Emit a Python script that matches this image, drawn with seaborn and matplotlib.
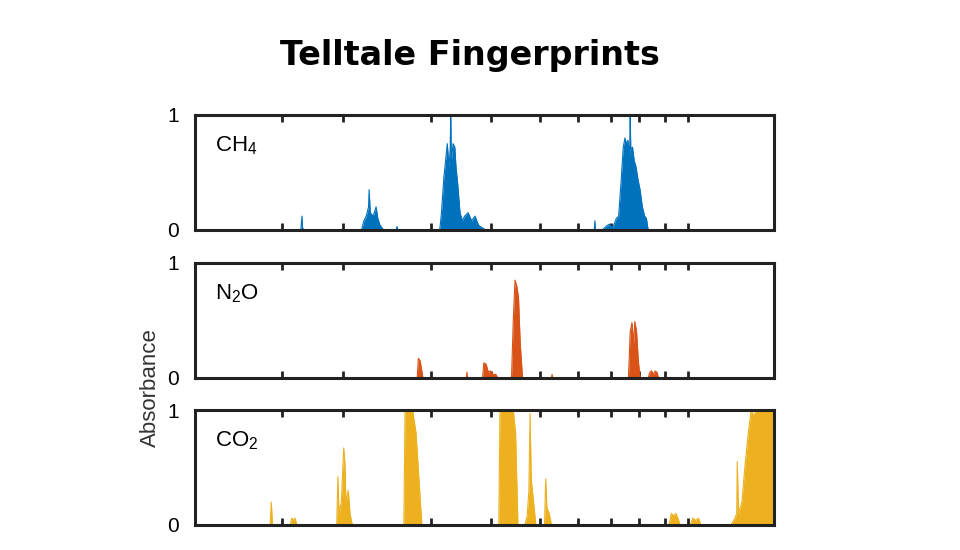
import numpy as np
import pandas as pd
import seaborn as sns
import matplotlib.pyplot as plt

# spectra (x in percent of axis width, y = absorbance)
ch4_x = [0, 18.3, 18.5, 18.6, 18.8, 28.8, 29.2, 29.6, 30.0, 30.1, 30.3, 30.8, 31.3, 31.6, 32.0, 32.6,
         34.8, 34.9, 35.1, 42.3, 42.6, 43.0, 43.3, 43.6, 43.9, 44.1, 44.2, 44.3, 44.6, 44.9, 45.1,
         45.4, 45.8, 46.2, 46.6, 47.2, 47.8, 48.4, 49.0, 49.6, 50.2, 69.0, 69.1, 69.2, 70.4, 71.0,
         71.6, 72.2, 72.8, 73.2, 73.6, 74.0, 74.3, 74.5, 74.8, 75.1, 75.2, 75.3, 75.6, 75.9, 76.2,
         76.5, 76.9, 77.3, 77.7, 78.0, 78.3, 100]
ch4_y = [0, 0, 0.12, 0.02, 0, 0, 0.08, 0.12, 0.2, 0.35, 0.15, 0.12, 0.2, 0.1, 0.04, 0,
         0, 0.03, 0, 0, 0.15, 0.45, 0.6, 0.75, 0.55, 0.7, 1.0, 0.6, 0.75, 0.72, 0.55,
         0.4, 0.15, 0.08, 0.12, 0.15, 0.08, 0.12, 0.04, 0.02, 0, 0, 0.08, 0, 0, 0.03,
         0.05, 0.02, 0.1, 0.12, 0.4, 0.72, 0.8, 0.75, 0.78, 0.65, 1.0, 0.7, 0.72, 0.6, 0.55,
         0.45, 0.35, 0.2, 0.12, 0.1, 0, 0]

n2o_x = [0, 38.4, 38.6, 38.9, 39.2, 39.4, 46.9, 47.0, 47.1, 49.7, 49.9, 50.3, 50.7, 51.1, 51.5,
         52.0, 52.3, 54.7, 55.0, 55.3, 55.6, 55.9, 56.2, 56.6, 61.6, 61.7, 61.8, 74.9, 75.2, 75.5,
         75.8, 76.0, 76.3, 76.6, 76.9, 78.3, 78.6, 78.9, 79.2, 79.5, 79.8, 80.1, 100]
n2o_y = [0, 0, 0.17, 0.15, 0.06, 0, 0, 0.05, 0, 0, 0.13, 0.12, 0.05, 0.06, 0.03,
         0.03, 0, 0, 0.5, 0.85, 0.8, 0.7, 0.3, 0, 0, 0.03, 0, 0, 0.4, 0.48,
         0.3, 0.49, 0.4, 0.15, 0, 0, 0.05, 0.06, 0.03, 0.06, 0.05, 0, 0]

co2_x = [0, 13.0, 13.2, 13.4, 16.5, 16.7, 17.0, 17.3, 17.6, 24.5, 24.7, 24.9, 25.3, 25.7, 25.9,
         26.1, 26.5, 26.8, 27.1, 27.3, 36.1, 36.3, 37.0, 37.6, 38.2, 38.7, 39.2, 52.5, 52.7, 55.0,
         55.4, 55.8, 57.0, 57.4, 57.7, 57.9, 58.1, 58.5, 58.9, 60.4, 60.6, 60.8, 61.2, 61.6, 81.9,
         82.3, 82.7, 83.1, 83.5, 83.8, 85.6, 86.0, 86.5, 87.0, 87.4, 92.6, 93.2, 93.6, 93.7, 93.9,
         94.5, 95.0, 95.6, 96.1, 96.5, 97.0, 100]
co2_y = [0, 0, 0.2, 0, 0, 0.06, 0.04, 0.06, 0, 0, 0.42, 0.1, 0.2, 0.67, 0.55,
         0.2, 0.3, 0.1, 0.02, 0, 0, 1.0, 1.0, 1.0, 0.8, 0.4, 0, 0, 1.0, 1.0,
         0.8, 0, 0, 0.08, 0.3, 0.97, 0.4, 0.2, 0, 0, 0.4, 0.15, 0.1, 0, 0,
         0.1, 0.08, 0.1, 0.05, 0, 0, 0.06, 0.04, 0.06, 0, 0, 0.05, 0.1, 0.55, 0.1,
         0.2, 0.5, 0.8, 1.0, 0.95, 1.0, 1.0]

tick_pos = [15.0, 25.6, 40.8, 51.1, 59.6, 66.1, 71.8, 76.8, 81.2, 85.2]

panels = [
    ("CH$_4$", ch4_x, ch4_y, "#0072BD"),
    ("N$_2$O", n2o_x, n2o_y, "#D95319"),
    ("CO$_2$", co2_x, co2_y, "#EDB120"),
]

sns.set_style("white")
plt.rcParams["font.family"] = ["Liberation Sans", "DejaVu Sans"]
plt.rcParams["mathtext.fontset"] = "custom"
plt.rcParams["mathtext.rm"] = "Liberation Sans"

fig = plt.figure(figsize=(9.6, 5.5), dpi=100)
bottoms = [0.582, 0.313, 0.0455]
for (name, xs, ys, col), b in zip(panels, bottoms):
    ax = fig.add_axes([0.203, b, 0.603, 0.209])
    df = pd.DataFrame({"x": xs, "y": ys})
    ax.fill_between(df["x"], 0, df["y"], color=col, linewidth=0)
    sns.lineplot(data=df, x="x", y="y", color=col, linewidth=0.8, ax=ax)
    ax.set_xlim(0, 100)
    ax.set_ylim(0, 1)
    ax.set_yticks([0, 1])
    ax.set_yticklabels(["0", "1"])
    ax.set_xticks(tick_pos)
    ax.set_xticklabels([])
    ax.tick_params(axis="x", direction="in", top=True, bottom=True, length=5, width=2, color="#222222")
    ax.tick_params(axis="y", left=False, labelsize=15, pad=8, labelcolor="black")
    ax.set_xlabel("")
    ax.set_ylabel("")
    for s in ax.spines.values():
        s.set_linewidth(2.2)
        s.set_color("#222222")
    ax.text(0.035, 0.68, name, transform=ax.transAxes, fontsize=16, color="black")

fig.text(0.157, 0.295, "Absorbance", rotation=90, fontsize=16, va="center", ha="center", color="#333333")
fig.text(0.49, 0.9, "Telltale Fingerprints", fontsize=24, fontweight="bold", ha="center", va="center",
         color="black", family=["DejaVu Sans"])
fig.savefig("out.png", dpi=100)
